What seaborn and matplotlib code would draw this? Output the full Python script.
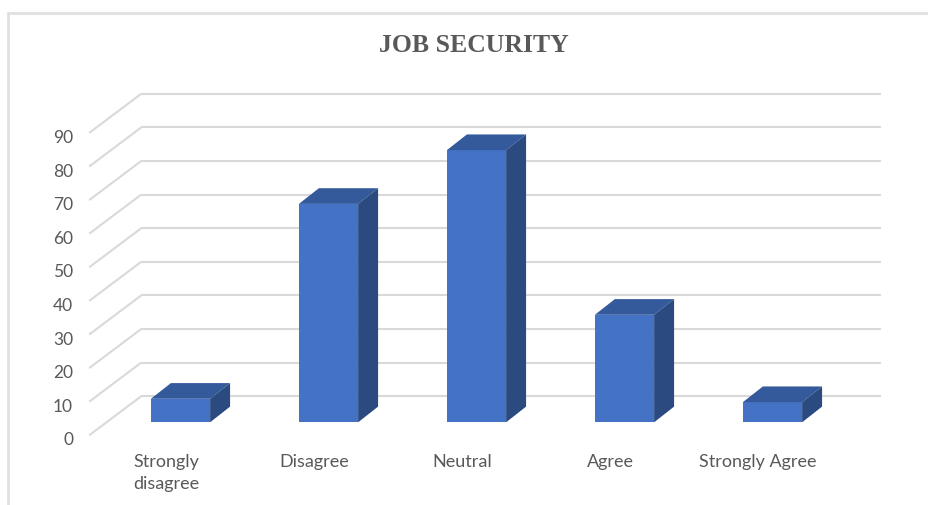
import matplotlib
matplotlib.use("Agg")
import matplotlib.pyplot as plt
from matplotlib.patches import Polygon
import seaborn as sns
import pandas as pd

categories = ["Strongly\ndisagree", "Disagree", "Neutral", "Agree", "Strongly Agree"]
values = [7, 65, 81, 32, 6]
tick_values = [0, 10, 20, 30, 40, 50, 60, 70, 80, 90]
title = "JOB SECURITY"

FRONT = "#4472C4"
TOP = "#345A9C"
SIDE = "#2B4A80"
GRID = "#D9D9D9"
TEXT = "#595959"

sns.set_theme(style="white")
plt.rcParams["font.family"] = ["Lato", "DejaVu Sans"]

W, H = 929, 506
fig = plt.figure(figsize=(W / 100, H / 100), dpi=100)
ax = fig.add_axes([0, 0, 1, 1])

df = pd.DataFrame({"category": categories, "value": values})
bar_w = 0.4
sns.barplot(data=df, x="category", y="value", order=categories, ax=ax,
            width=bar_w, color=FRONT, saturation=1, edgecolor="none",
            linewidth=0, zorder=3)

# pixel mapping: bar-front plane, category centres 148 px apart
ax.set_xlim(-180.5 / 148, (W - 180.5) / 148)
ax.set_ylim((423.3 - H) / 3.36, 423.3 / 3.36)
ax.axis("off")

# perspective offsets (data units) relative to the bar-front plane
front_dx, front_dv = -0.117, -3.87      # front edge of floor / side wall
back_dx, back_dv = 0.234, 7.74          # back wall
bar_dx, bar_dv = 0.135, 4.67            # depth of each column

n = len(categories)
x_left_front = -0.5 + front_dx
x_left_back = -0.5 + back_dx
x_right_back = n - 0.5 + back_dx

# gridlines: side-wall diagonal plus back-wall horizontal
for v in tick_values:
    ax.plot([x_left_front, x_left_back], [v + front_dv, v + back_dv],
            color=GRID, lw=1.5, zorder=1, solid_capstyle="butt")
    ax.plot([x_left_back, x_right_back], [v + back_dv, v + back_dv],
            color=GRID, lw=1.5, zorder=1, solid_capstyle="butt")
    ax.text(-0.726, v + front_dv - 1.2, str(v), ha="right", va="center",
            fontsize=12.5, color=TEXT)

# top and side faces of the columns, built from the drawn bars
for patch in ax.patches[:n]:
    x0 = patch.get_x()
    x1 = x0 + patch.get_width()
    h = patch.get_height()
    top = Polygon([(x0, h), (x1, h), (x1 + bar_dx, h + bar_dv), (x0 + bar_dx, h + bar_dv)],
                  closed=True, facecolor=TOP, edgecolor="none", zorder=3)
    side = Polygon([(x1, 0), (x1, h), (x1 + bar_dx, h + bar_dv), (x1 + bar_dx, bar_dv)],
                   closed=True, facecolor=SIDE, edgecolor="none", zorder=3)
    ax.add_patch(top)
    ax.add_patch(side)

# category labels under the floor
for i, lab in enumerate(categories):
    ax.text(i + front_dx + 0.02, -9.0, lab, ha="center", va="top",
            fontsize=13, color=TEXT, linespacing=1.5)

# title
fig.text(474 / W, 1 - 46 / H, title, ha="center", va="center",
         fontsize=18.5, fontweight="bold", color=TEXT,
         family=["Liberation Serif", "DejaVu Serif"])

# chart frame
fig.add_artist(plt.Line2D([8 / W, 8 / W], [0, 1 - 14 / H], transform=fig.transFigure,
                          color="#E0E0E0", lw=2))
fig.add_artist(plt.Line2D([8 / W, 1], [1 - 14 / H, 1 - 14 / H], transform=fig.transFigure,
                          color="#E0E0E0", lw=2))

fig.savefig("out.png", dpi=100)
